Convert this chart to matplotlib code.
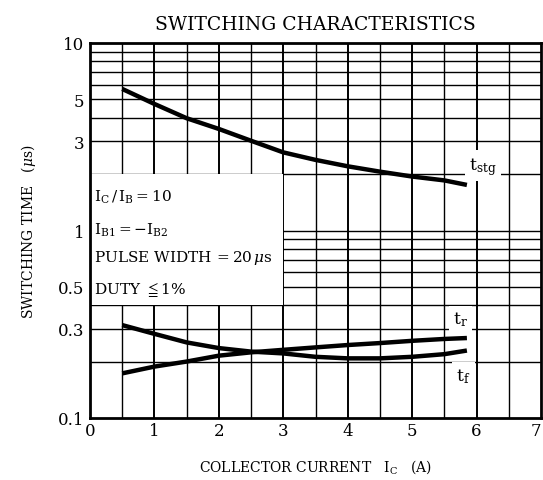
import numpy as np
import matplotlib
matplotlib.use("Agg")
import matplotlib.pyplot as plt
import matplotlib.transforms as mtransforms
from matplotlib.ticker import FixedLocator, NullFormatter
from matplotlib.patches import Rectangle

# Data
ic = [0.5, 1.0, 1.5, 2.0, 2.5, 3.0, 3.5, 4.0, 4.5, 5.0, 5.5, 5.85]
t_stg = [5.69, 4.73, 3.97, 3.48, 3.01, 2.61, 2.38, 2.20, 2.06, 1.94, 1.85, 1.75]
t_f = [0.313, 0.281, 0.253, 0.236, 0.226, 0.221, 0.212, 0.208, 0.208, 0.212, 0.219, 0.229]
t_r = [0.173, 0.188, 0.200, 0.215, 0.224, 0.231, 0.238, 0.245, 0.251, 0.258, 0.264, 0.267]

x_ticks = [0, 1, 2, 3, 4, 5, 6, 7]
y_ticks = [0.1, 0.3, 0.5, 1, 3, 5, 10]
y_tick_labels = ["0.1", "0.3", "0.5", "1", "3", "5", "10"]
y_grid = [0.2, 0.3, 0.4, 0.5, 0.6, 0.7, 0.8, 0.9, 1, 2, 3, 4, 5, 6, 7, 8, 9]

conditions = [r"$\mathrm{I_C\,/\,I_B = 10}$",
              r"$\mathrm{I_{B1} = -I_{B2}}$",
              r"PULSE WIDTH$\,=20\,\mu$s",
              r"DUTY $\leqq$1%"]
cond_y = [1.53, 1.02, 0.72, 0.49]

plt.rcParams['font.family'] = ['DejaVu Serif']
plt.rcParams['mathtext.fontset'] = 'dejavuserif'

fig = plt.figure(figsize=(5.43, 4.81), dpi=100)
ax = fig.add_axes([90/543, 1-419/481, 451/543, 375/481])
ax.set_yscale('log')
ax.set_xlim(0, 7)
ax.set_ylim(0.1, 10)

# grid
ax.set_axisbelow(True)
for x in np.arange(0.5, 7, 0.5):
    lw = 1.4 if float(x).is_integer() else 1.0
    ax.axvline(x, color='black', lw=lw, zorder=0.5)
for y in y_grid:
    ax.axhline(y, color='black', lw=1.0, zorder=0.5)

# condition box
ax.add_patch(Rectangle((0, 0.4), 3, 2 - 0.4, facecolor='white', edgecolor='none', zorder=1))
for txt, yy in zip(conditions, cond_y):
    ax.text(0.06, yy, txt, fontsize=11, va='center', ha='left', zorder=2,
            bbox=dict(facecolor='white', edgecolor='none', pad=1.5))

# curves
for series in (t_stg, t_f, t_r):
    ax.plot(ic, series, color='black', lw=3.2, zorder=4, solid_capstyle='butt')

lab = dict(fontsize=12.5, ha='center', va='center', zorder=3,
           bbox=dict(facecolor='white', edgecolor='none', pad=3))
ax.text(6.1, 2.22, r"$\mathrm{t_{stg}}$", **lab)
ax.text(5.75, 0.337, r"$\mathrm{t_r}$", **lab)
ax.text(5.8, 0.168, r"$\mathrm{t_f}$", **lab)

ax.set_xticks(x_ticks)
ax.set_xticklabels([str(v) for v in x_ticks], fontsize=12)
ax.yaxis.set_major_locator(FixedLocator(y_ticks))
ax.yaxis.set_minor_locator(FixedLocator([]))
ax.yaxis.set_minor_formatter(NullFormatter())
ax.set_yticklabels(y_tick_labels, fontsize=12)
ax.tick_params(axis='x', length=0, pad=3)
ax.tick_params(axis='y', length=0, pad=4)
# keep the last x label inside the figure
last = ax.get_xticklabels()[-1]
last.set_transform(last.get_transform() + mtransforms.ScaledTranslation(-5/100, 0, fig.dpi_scale_trans))
for s in ax.spines.values():
    s.set_linewidth(2.0)
    s.set_zorder(5)

ax.set_title("SWITCHING CHARACTERISTICS", fontsize=13.5, pad=10)
ax.set_ylabel(r"SWITCHING TIME   ($\mu$s)", fontsize=10, labelpad=14)
ax.set_xlabel(r"COLLECTOR CURRENT   $\mathrm{I_C}$   (A)", fontsize=10, labelpad=13)

fig.savefig("out.png", dpi=100)
